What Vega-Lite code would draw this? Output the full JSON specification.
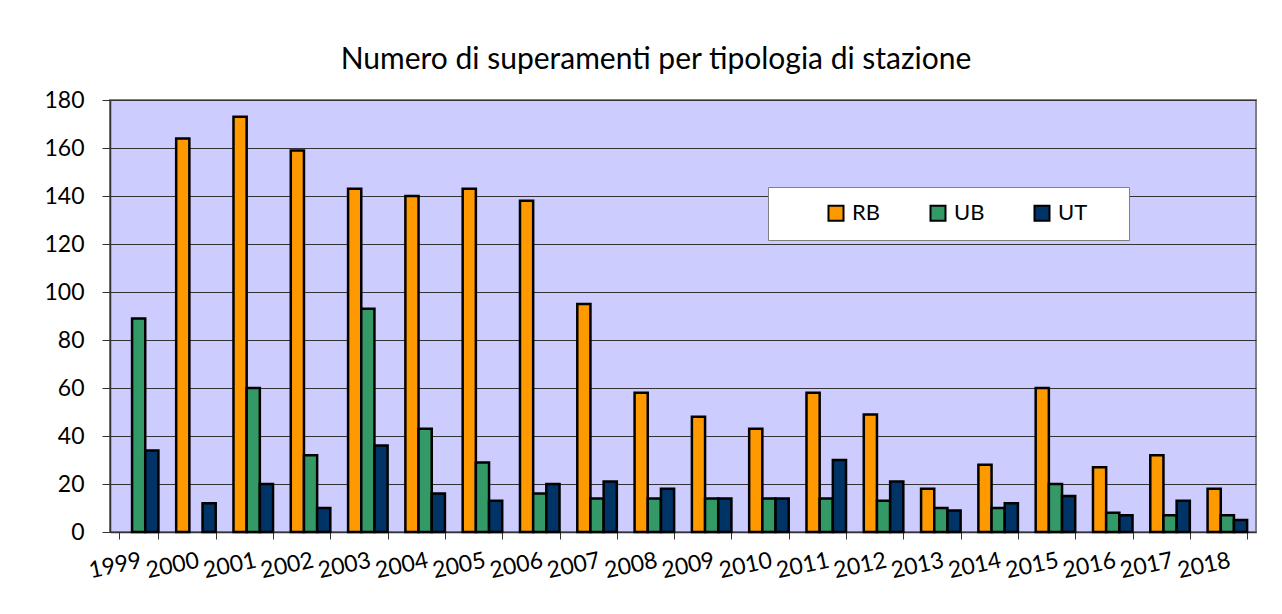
{
  "$schema": "https://vega.github.io/schema/vega-lite/v6.json",
  "width": 1146,
  "height": 432,
  "autosize": "none",
  "padding": {"left": 110, "top": 100, "right": 26, "bottom": 82},
  "background": "white",
  "title": {"text": "Numero di superamenti per tipologia di stazione", "font": "Lato", "fontSize": 30, "fontWeight": "normal", "color": "black", "anchor": "middle", "dx": -27, "offset": 14},
  "data": {"values": [
    {"year": "1999", "type": "UB", "value": 89}, {"year": "1999", "type": "UT", "value": 34},
    {"year": "2000", "type": "RB", "value": 164}, {"year": "2000", "type": "UT", "value": 12},
    {"year": "2001", "type": "RB", "value": 173}, {"year": "2001", "type": "UB", "value": 60}, {"year": "2001", "type": "UT", "value": 20},
    {"year": "2002", "type": "RB", "value": 159}, {"year": "2002", "type": "UB", "value": 32}, {"year": "2002", "type": "UT", "value": 10},
    {"year": "2003", "type": "RB", "value": 143}, {"year": "2003", "type": "UB", "value": 93}, {"year": "2003", "type": "UT", "value": 36},
    {"year": "2004", "type": "RB", "value": 140}, {"year": "2004", "type": "UB", "value": 43}, {"year": "2004", "type": "UT", "value": 16},
    {"year": "2005", "type": "RB", "value": 143}, {"year": "2005", "type": "UB", "value": 29}, {"year": "2005", "type": "UT", "value": 13},
    {"year": "2006", "type": "RB", "value": 138}, {"year": "2006", "type": "UB", "value": 16}, {"year": "2006", "type": "UT", "value": 20},
    {"year": "2007", "type": "RB", "value": 95}, {"year": "2007", "type": "UB", "value": 14}, {"year": "2007", "type": "UT", "value": 21},
    {"year": "2008", "type": "RB", "value": 58}, {"year": "2008", "type": "UB", "value": 14}, {"year": "2008", "type": "UT", "value": 18},
    {"year": "2009", "type": "RB", "value": 48}, {"year": "2009", "type": "UB", "value": 14}, {"year": "2009", "type": "UT", "value": 14},
    {"year": "2010", "type": "RB", "value": 43}, {"year": "2010", "type": "UB", "value": 14}, {"year": "2010", "type": "UT", "value": 14},
    {"year": "2011", "type": "RB", "value": 58}, {"year": "2011", "type": "UB", "value": 14}, {"year": "2011", "type": "UT", "value": 30},
    {"year": "2012", "type": "RB", "value": 49}, {"year": "2012", "type": "UB", "value": 13}, {"year": "2012", "type": "UT", "value": 21},
    {"year": "2013", "type": "RB", "value": 18}, {"year": "2013", "type": "UB", "value": 10}, {"year": "2013", "type": "UT", "value": 9},
    {"year": "2014", "type": "RB", "value": 28}, {"year": "2014", "type": "UB", "value": 10}, {"year": "2014", "type": "UT", "value": 12},
    {"year": "2015", "type": "RB", "value": 60}, {"year": "2015", "type": "UB", "value": 20}, {"year": "2015", "type": "UT", "value": 15},
    {"year": "2016", "type": "RB", "value": 27}, {"year": "2016", "type": "UB", "value": 8}, {"year": "2016", "type": "UT", "value": 7},
    {"year": "2017", "type": "RB", "value": 32}, {"year": "2017", "type": "UB", "value": 7}, {"year": "2017", "type": "UT", "value": 13},
    {"year": "2018", "type": "RB", "value": 18}, {"year": "2018", "type": "UB", "value": 7}, {"year": "2018", "type": "UT", "value": 5}
  ]},
  "mark": {"type": "bar", "stroke": "black", "strokeWidth": 2.5},
  "encoding": {
    "x": {
      "field": "year", "type": "nominal",
      "scale": {"paddingInner": 0.31, "paddingOuter": 0.155},
      "axis": {"title": null, "labelAngle": -12, "labelAlign": "right", "labelBaseline": "top", "tickBand": "extent", "tickSize": 7, "tickColor": "#333333", "domainColor": "#333333", "domainWidth": 1.5, "labelPadding": 10, "labelFont": "Lato", "labelFontSize": 23, "labelColor": "black", "grid": false}
    },
    "xOffset": {"field": "type", "scale": {"domain": ["RB", "UB", "UT"]}},
    "y": {
      "field": "value", "type": "quantitative",
      "scale": {"domain": [0, 180]},
      "axis": {"title": null, "values": [0, 20, 40, 60, 80, 100, 120, 140, 160, 180], "grid": true, "gridColor": "#333333", "gridWidth": 1, "gridOpacity": 1, "domainColor": "#333333", "domainWidth": 1.5, "tickColor": "#333333", "tickSize": 8, "labelPadding": 18, "labelFont": "Lato", "labelFontSize": 23, "labelColor": "black"}
    },
    "color": {
      "field": "type", "type": "nominal",
      "scale": {"domain": ["RB", "UB", "UT"], "range": ["#FF9900", "#339966", "#003366"]},
      "legend": {"orient": "none", "legendX": 658, "legendY": 87, "direction": "horizontal", "title": "\u00a0", "titleOrient": "left", "titlePadding": 42, "titleFontSize": 8, "fillColor": "white", "strokeColor": "#808080", "padding": 15, "symbolType": "square", "symbolSize": 225, "symbolStrokeColor": "black", "symbolStrokeWidth": 2, "labelFont": "Lato", "labelFontSize": 22, "labelColor": "black", "labelOffset": 5, "columnPadding": 45, "labelExpr": "datum.label == 'UT' ? 'UT\u00a0\u00a0\u2800' : datum.label"}
    }
  },
  "config": {"view": {"fill": "#CCCCFF", "stroke": "#808080", "strokeWidth": 2}}
}
